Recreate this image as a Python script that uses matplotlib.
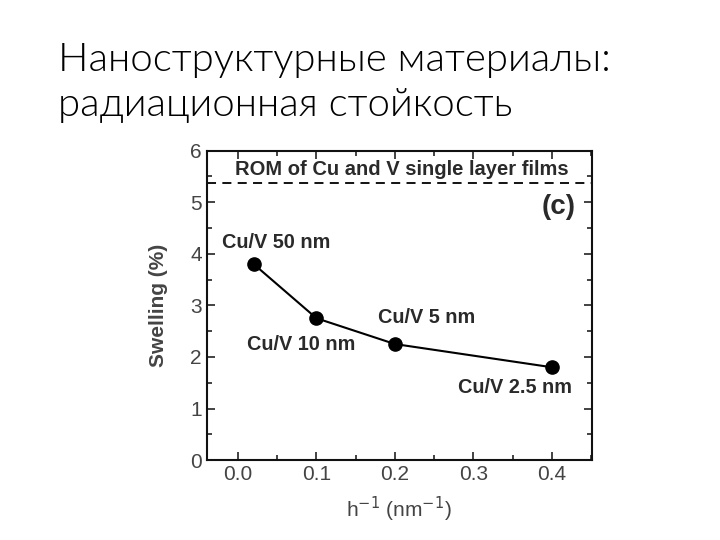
import matplotlib
matplotlib.use("Agg")
from matplotlib import pyplot as plt
from matplotlib.ticker import MultipleLocator

# data
inv_h = [0.02, 0.1, 0.2, 0.4]
swelling = [3.8, 2.75, 2.25, 1.8]
labels = ["Cu/V 50 nm", "Cu/V 10 nm", "Cu/V 5 nm", "Cu/V 2.5 nm"]
label_pos = [(-0.021, 4.21), (0.0115, 2.25), (0.179, 2.76), (0.281, 1.40)]
rom_level = 5.37

title_lines = ["Наноструктурные материалы:", "радиационная стойкость"]

plt.rcParams['font.family'] = ['Liberation Sans', 'DejaVu Sans']

fig = plt.figure(figsize=(7.2, 5.4), dpi=100)
fig.patch.set_facecolor("white")

# slide title
for i, line in enumerate(title_lines):
    fig.text(58 / 720, 1 - (71 + 45 * i) / 540, line, fontsize=29, family=['Lato', 'DejaVu Sans'],
             fontweight=300, color='black', va='baseline', ha='left')

ax = fig.add_axes([0.287, 0.148, 0.535, 0.573])
ax.plot(inv_h, swelling, color='black', lw=1.5, marker='o', ms=9.5, mfc='black', mec='black')
ax.axhline(rom_level, color='black', lw=1.3, ls=(0, (5, 3.5)))

for lab, (lx, ly) in zip(labels, label_pos):
    ax.text(lx, ly, lab, fontsize=14.3, fontweight='bold', color='#2a2a2a', ha='left', va='center')

ax.text(0.2085, 5.63, "ROM of Cu and V single layer films", fontsize=14.5, fontweight='bold',
        color='#2a2a2a', ha='center', va='center')
ax.text(0.43, 4.9, "(c)", fontsize=20, fontweight='bold', color='#2a2a2a', ha='right', va='center')

ax.set_xlim(-0.04, 0.451)
ax.set_ylim(0, 6)
ax.xaxis.set_major_locator(MultipleLocator(0.1))
ax.xaxis.set_minor_locator(MultipleLocator(0.05))
ax.yaxis.set_major_locator(MultipleLocator(1))
ax.yaxis.set_minor_locator(MultipleLocator(0.5))
ax.set_xticks([0.0, 0.1, 0.2, 0.3, 0.4])
ax.set_xticklabels(["0.0", "0.1", "0.2", "0.3", "0.4"])
ax.tick_params(which='both', direction='in', top=True, right=True, colors='#222222',
               labelcolor='#444444', labelsize=15, width=1.2)
ax.tick_params(which='major', length=6)
ax.tick_params(which='minor', length=3.5)
for s in ax.spines.values():
    s.set_linewidth(1.5)
    s.set_color('#111111')

ax.set_ylabel("Swelling (%)", fontsize=15, fontweight='bold', color='#444444', labelpad=16)
ax.set_xlabel(r"h$^{-1}$ (nm$^{-1}$)", fontsize=15, color='#444444', labelpad=8)

fig.savefig("out.png", dpi=100)
